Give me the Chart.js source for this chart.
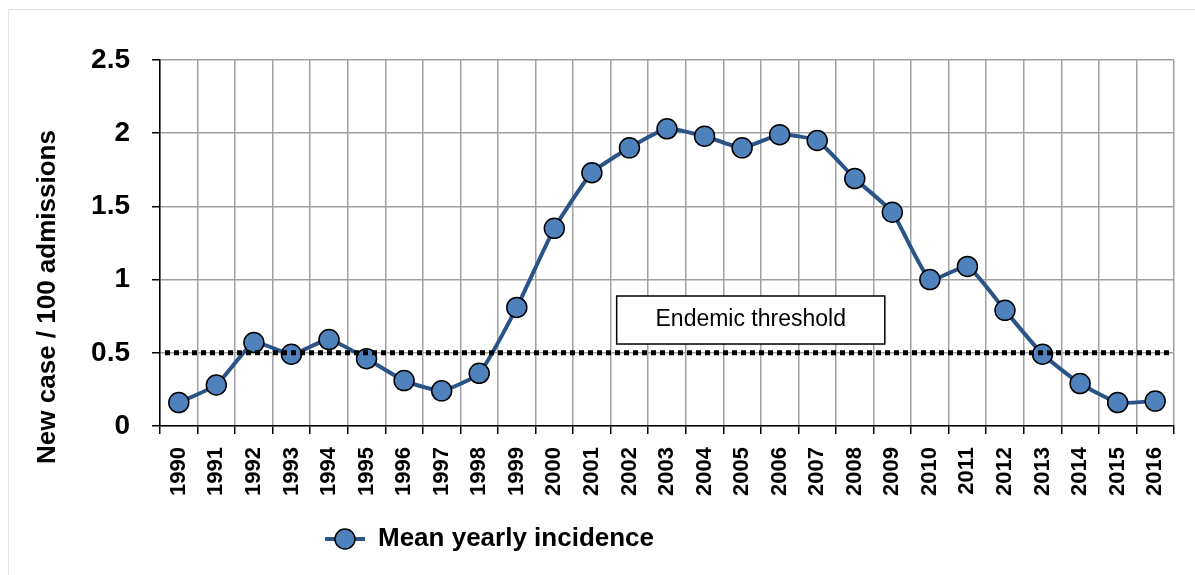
<!DOCTYPE html>
<html>
<head>
<meta charset="utf-8">
<script src="https://cdn.jsdelivr.net/npm/chart.js@4.4.1/dist/chart.umd.min.js"></script>
<style>
  body { margin: 0; background: #fff; }
  #frame { position: absolute; left: 8px; top: 9px; width: 1200px; height: 600px; border: 1px solid #e4e4e4; }
  #wrap { position: absolute; left: 0; top: 0; width: 1195px; height: 575px; }
</style>
</head>
<body>
<div id="frame"></div>
<div id="wrap"><canvas id="chart" width="1195" height="575"></canvas></div>
<script>
// Данные графика
const years = ['1990', '1991', '1992', '1993', '1994', '1995', '1996', '1997', '1998', '1999',
    '2000', '2001', '2002', '2003', '2004', '2005', '2006', '2007', '2008', '2009',
    '2010', '2011', '2012', '2013', '2014', '2015', '2016'];
const incidence = [0.16, 0.28, 0.57, 0.49, 0.59, 0.46, 0.31, 0.24, 0.36, 0.81,
    1.35, 1.73, 1.90, 2.03, 1.98, 1.90, 1.99, 1.95, 1.69, 1.46,
    1.00, 1.09, 0.79, 0.49, 0.29, 0.16, 0.17];
const threshold = 0.5;
const thresholdLabel = 'Endemic threshold';
const seriesLabel = 'Mean yearly incidence';
const yTitle = 'New case / 100 admissions';
const yTicks = [0, 0.5, 1, 1.5, 2, 2.5];

const FONT = "'Liberation Sans', Arial, sans-serif";

// Пунктир порога и подпись
const thresholdPlugin = {
    id: 'threshold',
    afterDatasetsDraw(chart) {
        const { ctx, chartArea, scales } = chart;
        const y = scales.y.getPixelForValue(threshold);
        ctx.save();
        ctx.strokeStyle = '#000';
        ctx.lineWidth = 5;
        ctx.setLineDash([5, 4]);
        ctx.beginPath();
        ctx.moveTo(chartArea.left + 5, y);
        ctx.lineTo(chartArea.right - 2, y);
        ctx.stroke();
        ctx.restore();

        // рамка с подписью между 2001 и 2008
        const x1 = scales.x.getPixelForValue(11.66);
        const x2 = scales.x.getPixelForValue(18.8);
        const y1 = scales.y.getPixelForValue(0.888);
        const y2 = scales.y.getPixelForValue(0.56);
        ctx.save();
        ctx.fillStyle = '#fff';
        ctx.fillRect(x1, y1, x2 - x1, y2 - y1);
        ctx.strokeStyle = '#000';
        ctx.lineWidth = 1.5;
        ctx.strokeRect(x1, y1, x2 - x1, y2 - y1);
        ctx.fillStyle = '#000';
        ctx.font = '23px ' + FONT;
        ctx.textAlign = 'center';
        ctx.textBaseline = 'middle';
        ctx.fillText(thresholdLabel, (x1 + x2) / 2, (y1 + y2) / 2);
        ctx.restore();
    }
};

// Легенда внизу и подпись оси Y
const legendPlugin = {
    id: 'customLegend',
    afterDraw(chart) {
        const { ctx } = chart;
        const ds = chart.data.datasets[0];
        const cx = 345, cy = 539;
        ctx.save();
        ctx.strokeStyle = ds.borderColor;
        ctx.lineWidth = 4;
        ctx.beginPath();
        ctx.moveTo(cx - 20, cy);
        ctx.lineTo(cx + 20, cy);
        ctx.stroke();
        ctx.beginPath();
        ctx.arc(cx, cy, 10, 0, Math.PI * 2);
        ctx.fillStyle = ds.pointBackgroundColor;
        ctx.fill();
        ctx.lineWidth = 1.5;
        ctx.strokeStyle = ds.pointBorderColor;
        ctx.stroke();
        ctx.fillStyle = '#000';
        ctx.font = 'bold 26px ' + FONT;
        ctx.textBaseline = 'middle';
        ctx.fillText(ds.label, cx + 33, cy);

        // заголовок оси Y
        ctx.translate(48, 297);
        ctx.rotate(-Math.PI / 2);
        ctx.textAlign = 'center';
        ctx.font = 'bold 26px ' + FONT;
        ctx.fillText(yTitle, 0, 0);
        ctx.restore();
    }
};

const ctx = document.getElementById('chart').getContext('2d');
new Chart(ctx, {
    type: 'line',
    data: {
        labels: years,
        datasets: [{
            label: seriesLabel,
            data: incidence,
            borderColor: '#2b5486',
            borderWidth: 4,
            pointRadius: 10,
            pointHoverRadius: 10,
            pointBackgroundColor: '#4f81bd',
            pointBorderColor: '#000',
            pointBorderWidth: 1.5,
            tension: 0.15,
            fill: false
        }]
    },
    options: {
        responsive: false,
        animation: false,
        events: [],
        layout: { padding: { left: 20, top: 60, right: 21, bottom: 60 } },
        plugins: {
            legend: { display: false },
            tooltip: { enabled: false }
        },
        scales: {
            x: {
                offset: true,
                grid: { offset: true, color: '#a0a0a0', lineWidth: 1.5, tickColor: '#000', tickLength: 8 },
                border: { color: '#000', width: 1.5 },
                ticks: {
                    color: '#000',
                    font: { family: FONT, size: 22, weight: 'bold' },
                    minRotation: 90,
                    maxRotation: 90,
                    autoSkip: false,
                    padding: 13
                },
                afterFit(scale) { scale.height = 89; }
            },
            y: {
                min: 0,
                max: 2.5,
                afterBuildTicks(scale) { scale.ticks = yTicks.map(v => ({ value: v })); },
                grid: { color: '#a0a0a0', lineWidth: 1.5, tickColor: '#000', tickLength: 8 },
                border: { color: '#000', width: 1.5 },
                ticks: {
                    color: '#000',
                    font: { family: FONT, size: 28, weight: 'bold' },
                    padding: 22,
                    callback: v => String(v)
                },
                afterFit(scale) { scale.width = 140; }
            }
        }
    },
    plugins: [thresholdPlugin, legendPlugin]
});
</script>
</body>
</html>
